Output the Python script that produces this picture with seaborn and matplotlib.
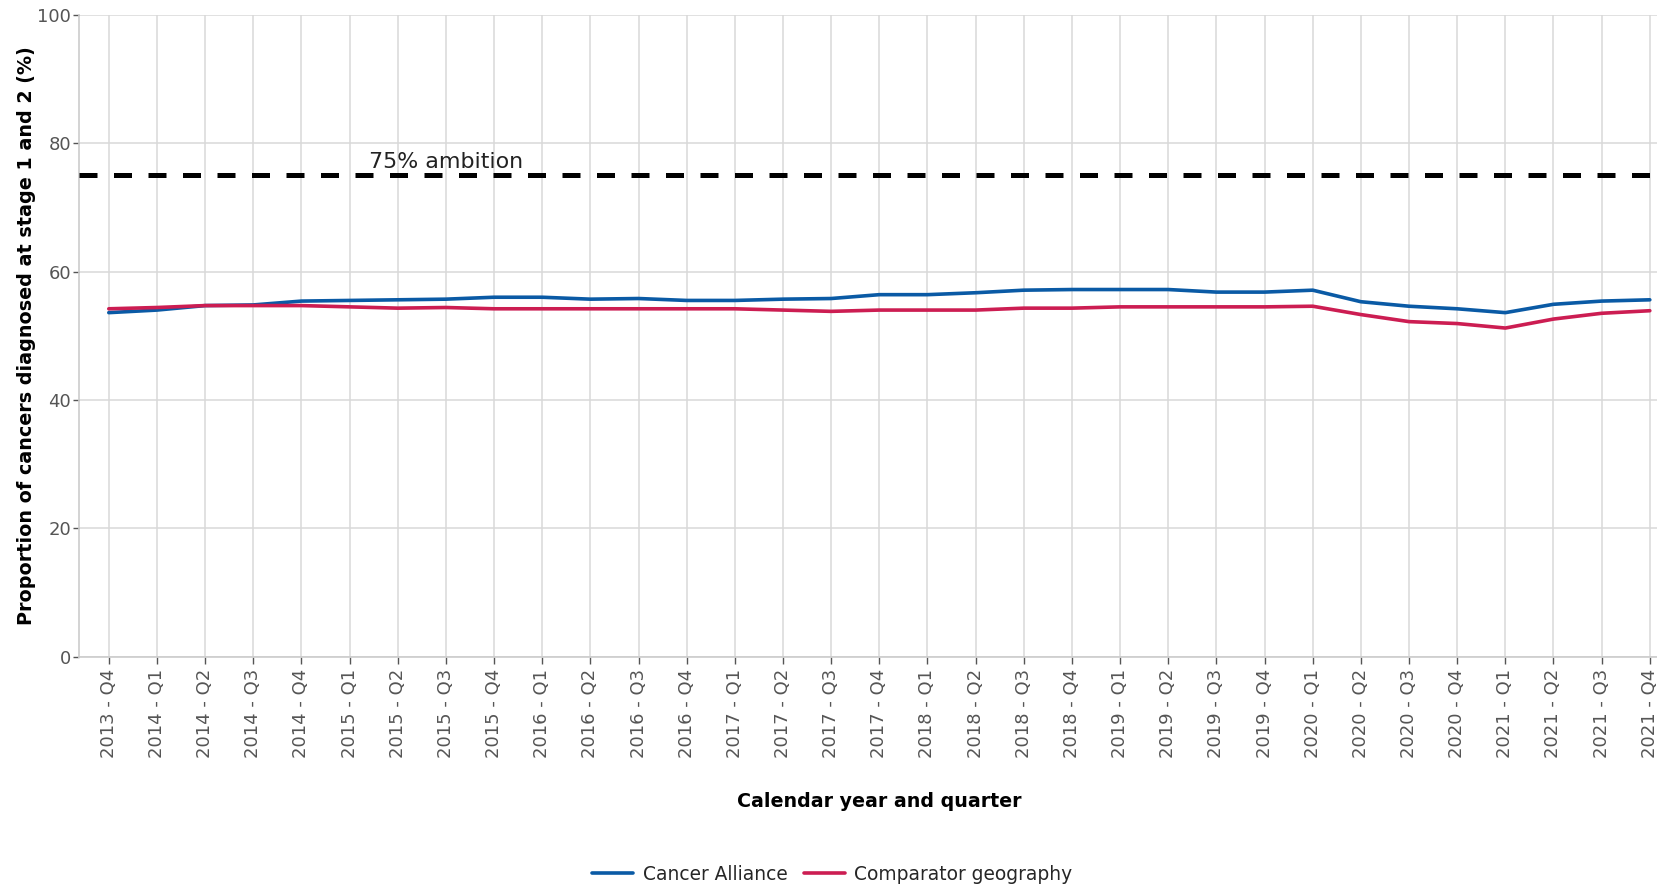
import matplotlib
matplotlib.use("Agg")
import matplotlib.pyplot as plt
import seaborn as sns
import pandas as pd

categories = [
    "2013 - Q4",
    "2014 - Q1", "2014 - Q2", "2014 - Q3", "2014 - Q4",
    "2015 - Q1", "2015 - Q2", "2015 - Q3", "2015 - Q4",
    "2016 - Q1", "2016 - Q2", "2016 - Q3", "2016 - Q4",
    "2017 - Q1", "2017 - Q2", "2017 - Q3", "2017 - Q4",
    "2018 - Q1", "2018 - Q2", "2018 - Q3", "2018 - Q4",
    "2019 - Q1", "2019 - Q2", "2019 - Q3", "2019 - Q4",
    "2020 - Q1", "2020 - Q2", "2020 - Q3", "2020 - Q4",
    "2021 - Q1", "2021 - Q2", "2021 - Q3", "2021 - Q4",
]
cancer_alliance = [
    53.6, 54.0, 54.7, 54.8, 55.4, 55.5, 55.6, 55.7, 56.0,
    56.0, 55.7, 55.8, 55.5, 55.5, 55.7, 55.8, 56.4,
    56.4, 56.7, 57.1, 57.2, 57.2, 57.2, 56.8, 56.8,
    57.1, 55.3, 54.6, 54.2, 53.6, 54.9, 55.4, 55.6,
]
comparator = [
    54.2, 54.4, 54.7, 54.7, 54.7, 54.5, 54.3, 54.4, 54.2,
    54.2, 54.2, 54.2, 54.2, 54.2, 54.0, 53.8, 54.0,
    54.0, 54.0, 54.3, 54.3, 54.5, 54.5, 54.5, 54.5,
    54.6, 53.3, 52.2, 51.9, 51.2, 52.6, 53.5, 53.9,
]
series_names = ["Cancer Alliance", "Comparator geography"]
series_colors = ["#0a5aa5", "#cc1d52"]
ambition_value = 75
ambition_label = "75% ambition"
y_ticks = [0, 20, 40, 60, 80, 100]

df = pd.DataFrame({
    "quarter": categories * 2,
    "value": cancer_alliance + comparator,
    "series": [series_names[0]] * len(categories) + [series_names[1]] * len(categories),
})

sns.set_theme(style="white")
plt.rcParams["font.family"] = ["DejaVu Sans"]

fig = plt.figure(figsize=(16.58, 8.86), dpi=100)
ax = fig.add_axes([0.0476, 0.2588, 0.9524, 0.7245])

ax.set_axisbelow(True)
ax.grid(True, axis="both", color="#d9d9d9", linewidth=1.1)

ax.axhline(ambition_value, color="black", linewidth=3.6, linestyle=(0, (3.6, 3.3)), zorder=3)

sns.lineplot(data=df, x="quarter", y="value", hue="series", hue_order=series_names,
             palette=series_colors, linewidth=2.6, ax=ax, sort=False, zorder=4)

ax.text(7, 76.2, ambition_label, ha="center", va="baseline", fontsize=15.9, color="#222222", zorder=5)

ax.set_ylim(0, 100)
ax.set_xlim(-0.62, len(categories) - 1 + 0.17)
ax.set_yticks(y_ticks)
ax.set_xticks(range(len(categories)))
ax.set_xticklabels(categories, rotation=90)
ax.tick_params(axis="both", labelsize=13, labelcolor="#555555", color="#555555",
               length=5, width=1, bottom=True, left=True)
ax.tick_params(axis="x", pad=4)
ax.tick_params(axis="y", pad=1.5, length=4)

for side in ["top", "right"]:
    ax.spines[side].set_visible(False)
for side in ["left", "bottom"]:
    ax.spines[side].set_color("#cccccc")
    ax.spines[side].set_linewidth(1.2)

ax.set_ylabel("Proportion of cancers diagnosed at stage 1 and 2 (%)", fontsize=13.8,
              fontweight="bold", color="black")
ax.yaxis.set_label_coords(-0.027, 0.5)
ax.set_xlabel("Calendar year and quarter", fontsize=13.7, fontweight="bold", color="black")
ax.xaxis.set_label_coords(0.507, -0.21)

handles, labels = ax.get_legend_handles_labels()
ax.get_legend().remove()
fig.legend(handles, labels, loc="center", bbox_to_anchor=(0.502, 0.013), ncol=2,
           frameon=False, fontsize=13.4, handlelength=2.2, columnspacing=0.9,
           handletextpad=0.5)

fig.savefig("out.png", dpi=100)
